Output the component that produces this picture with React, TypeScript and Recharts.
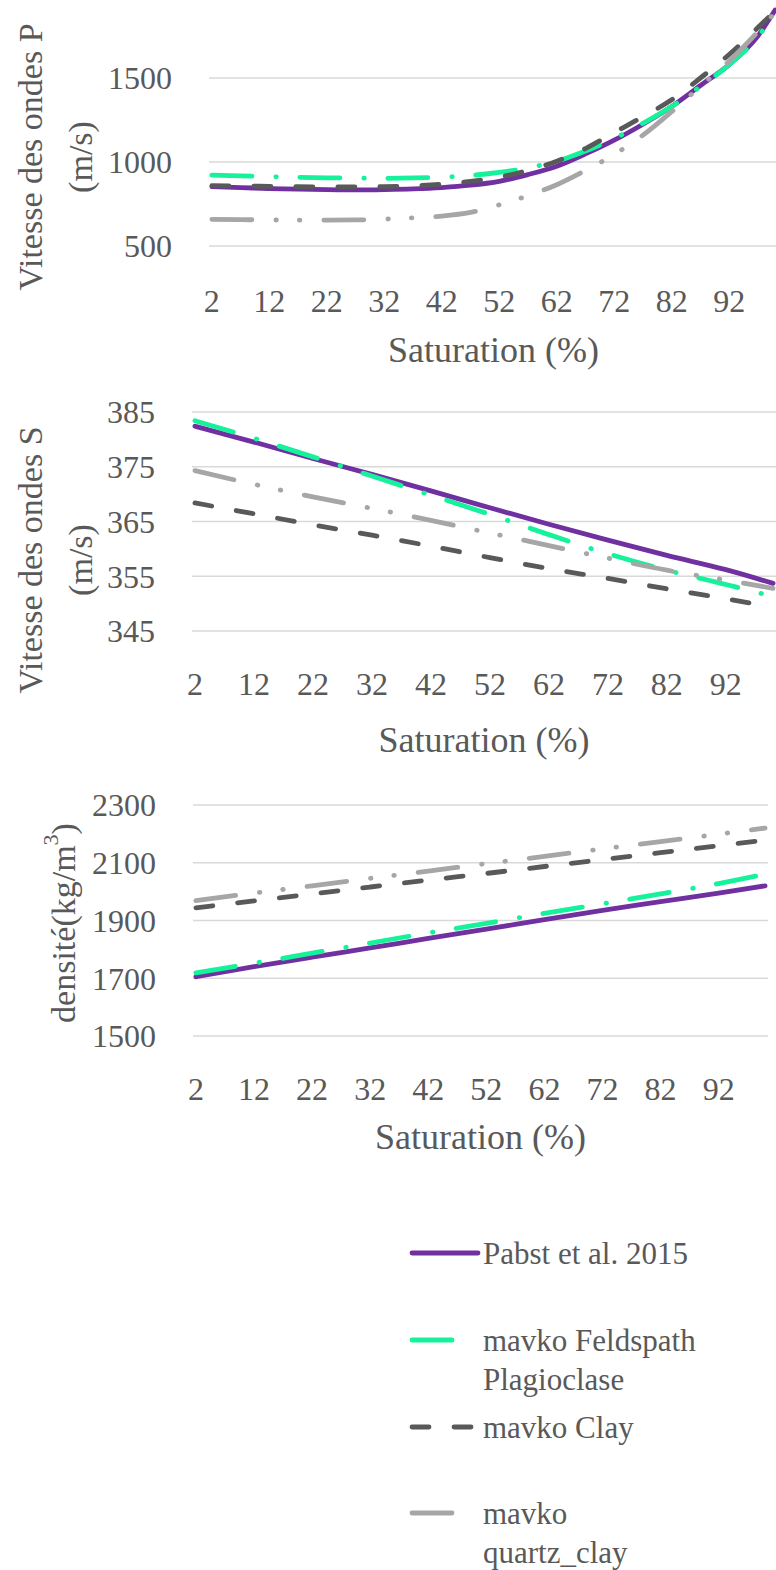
import React from "react";
import { LineChart, Line, XAxis, YAxis, CartesianGrid } from "recharts";

const FONT = "Liberation Serif";
const TXT = "#595959";

// Vitesse P : lue tous les 5 % (courbe plus marquée), S et densité tous les 10 %
const satP = [2, 7, 12, 17, 22, 27, 32, 37, 42, 47, 52, 57, 62, 67, 72, 77, 82, 87, 92, 97, 100];
const vpPabst = [853, 848, 842, 838, 835, 834, 836, 840, 848, 862, 885, 925, 975, 1048, 1130, 1225, 1330, 1455, 1580, 1750, 1905];
const vpFeld = [922, 918, 913, 909, 906, 904, 903, 905, 910, 920, 938, 965, 1005, 1065, 1140, 1230, 1330, 1450, 1580, 1745, 1890];
const vpClay = [859, 857, 855, 853, 852, 852, 853, 858, 868, 885, 910, 950, 1005, 1080, 1175, 1270, 1370, 1500, 1640, 1800, 1900];
const vpQuartz = [659, 657, 655, 654, 654, 655, 660, 668, 678, 700, 745, 800, 865, 950, 1045, 1160, 1300, 1450, 1600, 1775, 1890];

const sat = [2, 12, 22, 32, 42, 52, 62, 72, 82, 92, 100];
const vsPabst = [382.4, 379.5, 376.5, 373.6, 370.6, 367.5, 364.5, 361.6, 358.8, 356.2, 353.7];
const vsFeld = [383.4, 380.2, 376.8, 373.3, 369.8, 366.3, 362.6, 359.1, 356.1, 353.5, 351.3];
const vsClay = [368.4, 366.4, 364.4, 362.5, 360.5, 358.4, 356.4, 354.6, 352.7, 350.9, 349.3];
const vsQuartz = [374.3, 371.8, 369.5, 367.4, 365.2, 362.9, 360.6, 358.3, 356.1, 354.3, 352.8];

const rhoPabst = [1705, 1740, 1773, 1805, 1838, 1870, 1903, 1935, 1965, 1995, 2020];
const rhoFeld = [1719, 1752, 1787, 1822, 1857, 1890, 1925, 1958, 1992, 2028, 2060];
const rhoClay = [1944, 1968, 1992, 2016, 2040, 2063, 2087, 2111, 2135, 2159, 2178];
const rhoQuartz = [1969, 1995, 2020, 2046, 2071, 2097, 2122, 2148, 2173, 2199, 2220];

const xTicks = [2, 12, 22, 32, 42, 52, 62, 72, 82, 92];
const vpTicks = [500, 1000, 1500];
const vsTicks = [345, 355, 365, 375, 385];
const rhoTicks = [1500, 1700, 1900, 2100, 2300];

const series = [
  { key: "pabst", name: ["Pabst et al. 2015"], color: "#7030A0", dash: undefined as string | undefined, len: 66 },
  { key: "feld", name: ["mavko Feldspath", "Plagioclase"], color: "#16F29B", dash: "40 24 0.5 23.5", len: 43 },
  { key: "clay", name: ["mavko Clay"], color: "#595959", dash: "17 25", len: 60 },
  { key: "quartz", name: ["mavko", "quartz_clay"], color: "#A6A6A6", dash: "40 24 0.5 23 0.5 24", len: 43 },
];

const build = (xs: number[], cols: number[][]) =>
  xs.map((s, i) => ({ s, pabst: cols[0][i], feld: cols[1][i], clay: cols[2][i], quartz: cols[3][i] }));

const dataP = build(satP, [vpPabst, vpFeld, vpClay, vpQuartz]);
const dataS = build(sat, [vsPabst, vsFeld, vsClay, vsQuartz]);
const dataRho = build(sat, [rhoPabst, rhoFeld, rhoClay, rhoQuartz]);

type PanelProps = {
  data: ReturnType<typeof build>;
  top: number;
  width: number;
  height: number;
  marginTop: number;
  marginRight: number;
  yWidth: number;
  xHeight: number;
  domain: [number, number];
  ticks: number[];
  xTickGap: number;
  xTitleDy: number;
  yTitle: React.ReactNode;
};

function Panel(p: PanelProps) {
  const tick = { fill: TXT, fontSize: 32, fontFamily: FONT };
  return (
    <div style={{ position: "absolute", left: 0, top: p.top }}>
      <LineChart width={p.width} height={p.height} data={p.data}
        margin={{ top: p.marginTop, right: p.marginRight, bottom: 0, left: 0 }}>
        <CartesianGrid vertical={false} stroke="#D9D9D9" strokeWidth={1.5} />
        <XAxis dataKey="s" type="number" domain={[1.5, 100.5]} ticks={xTicks} interval={0}
          axisLine={false} tickLine={false} tickSize={0} tickMargin={p.xTickGap} height={p.xHeight} tick={tick}
          label={{
            // eslint-disable-next-line @typescript-eslint/no-explicit-any
            content: (lp: any) => {
              const vb = lp.viewBox || { x: 0, y: 0, width: 0 };
              return (
                <text x={vb.x + vb.width / 2} y={vb.y + p.xTitleDy} textAnchor="middle" dominantBaseline="central"
                  fill={TXT} fontSize={36} fontFamily={FONT}>Saturation (%)</text>
              );
            },
          }} />
        <YAxis type="number" domain={p.domain} ticks={p.ticks} interval={0} width={p.yWidth}
          axisLine={false} tickLine={false} tickSize={0} tickMargin={37} tick={tick}
          label={{ content: () => p.yTitle }} />
        {series.map((s) => (
          <Line key={s.key} dataKey={s.key} type="monotone" stroke={s.color} strokeWidth={4.8}
            strokeDasharray={s.dash} strokeLinecap="round" strokeLinejoin="round"
            dot={false} activeDot={false} isAnimationActive={false} />
        ))}
      </LineChart>
    </div>
  );
}

const rot = (x: number, y: number, content: React.ReactNode, key: string) => (
  <text key={key} x={x} y={y} transform={`rotate(-90 ${x} ${y})`} textAnchor="middle" dominantBaseline="central"
    fill={TXT} fontSize={34} fontFamily={FONT}>{content}</text>
);

function Legend() {
  const rows = [1253, 1340, 1427, 1513];
  return (
    <svg width={776} height={370} style={{ position: "absolute", left: 0, top: 1200 }}>
      {series.map((s, i) => {
        const y = rows[i] - 1200;
        return (
          <g key={s.key}>
            <line x1={412} x2={412 + s.len} y1={y} y2={y} stroke={s.color} strokeWidth={4.8}
              strokeDasharray={s.dash} strokeLinecap="round" />
            {s.name.map((t, j) => (
              <text key={j} x={483} y={y + j * 39} dominantBaseline="central" fill={TXT}
                fontSize={31} fontFamily={FONT}>{t}</text>
            ))}
          </g>
        );
      })}
    </svg>
  );
}

export default function App() {
  return (
    <div style={{ position: "absolute", left: 0, top: 0, width: 776, height: 1570, overflow: "hidden", background: "#fff" }}>
      <Panel data={dataP} top={-20} width={778} height={396} marginTop={14} marginRight={0} yWidth={209} xHeight={130}
        domain={[500, 2000]} ticks={vpTicks} xTickGap={43} xTitleDy={104}
        yTitle={<g>{rot(30, 177, "Vitesse des ondes P", "a")}{rot(80, 177, "(m/s)", "b")}</g>} />
      <Panel data={dataS} top={380} width={776} height={386} marginTop={32} marginRight={0} yWidth={192} xHeight={135}
        domain={[345, 385]} ticks={vsTicks} xTickGap={41} xTitleDy={109}
        yTitle={<g>{rot(30, 180, "Vitesse des ondes S", "a")}{rot(80, 180, "(m/s)", "b")}</g>} />
      <Panel data={dataRho} top={770} width={776} height={396} marginTop={35} marginRight={8} yWidth={193} xHeight={130}
        domain={[1500, 2300]} ticks={rhoTicks} xTickGap={41} xTitleDy={101}
        yTitle={rot(63, 153, <>densité(kg/m<tspan dy={-13} fontSize={22}>3</tspan><tspan dy={13}>)</tspan></>, "a")} />
      <Legend />
    </div>
  );
}
